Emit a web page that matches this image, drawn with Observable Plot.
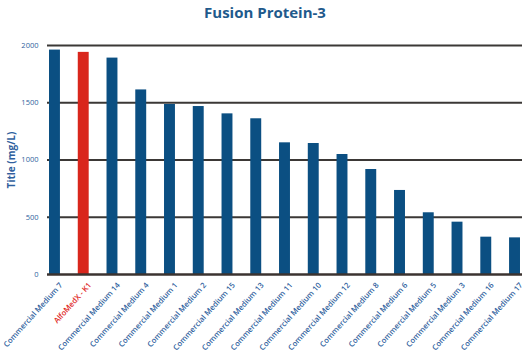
<!DOCTYPE html>
<html>
<head>
<meta charset="utf-8">
<script src="https://cdn.jsdelivr.net/npm/d3@7"></script>
<script src="https://cdn.jsdelivr.net/npm/@observablehq/plot@0.6"></script>
<style>
  html, body { margin: 0; padding: 0; background: #fff; }
  #title { height: 25px; line-height: 25px; text-align: center; font-family: "Open Sans", sans-serif; font-weight: 700; font-size: 15px; color: #1f5a8c; }
  svg { display: block; }
</style>
</head>
<body>
<div id="title">Fusion Protein-3</div>
<div id="chart"></div>
<script>
const categories = [
  "Commercial Medium 7", "AlfoMedX - K1", "Commercial Medium 14", "Commercial Medium 4",
  "Commercial Medium 1", "Commercial Medium 2", "Commercial Medium 15", "Commercial Medium 13",
  "Commercial Medium 11", "Commercial Medium 10", "Commercial Medium 12", "Commercial Medium 8",
  "Commercial Medium 6", "Commercial Medium 5", "Commercial Medium 3", "Commercial Medium 16",
  "Commercial Medium 17"
];
const titers = [1960, 1940, 1890, 1612, 1485, 1467, 1403, 1360, 1150, 1144, 1048, 917, 734, 539, 457, 326, 320];
const highlight = "AlfoMedX - K1";
const yTicks = [0, 500, 1000, 1500, 2000];

const data = categories.map((c, i) => ({category: c, value: titers[i]}));
const colorOf = c => c === highlight ? "#d9261c" : "#0b4f82";
const labelColorOf = c => c === highlight ? "#e0261c" : "#2f5f9e";

const chart = Plot.plot({
  width: 530,
  height: 332,
  marginTop: 20,
  marginBottom: 83,
  marginLeft: 47,
  marginRight: 8,
  style: {fontFamily: "'Open Sans', sans-serif", background: "#fff"},
  x: {domain: categories, paddingInner: 0.62, paddingOuter: 0.07, round: false, axis: null},
  y: {domain: [0, 2000], ticks: yTicks},
  color: {type: "identity"},
  marks: [
    Plot.ruleY(yTicks.filter(t => t > 0), {stroke: "#3b3836", strokeWidth: 2}),
    Plot.barY(data, {x: "category", y: "value", fill: d => colorOf(d.category)}),
    Plot.ruleY([0], {stroke: "#3b3330", strokeWidth: 2.5}),
    Plot.axisY({
      ticks: yTicks, tickSize: 0, tickPadding: 9, fontSize: 7.5, fill: "#2f5f9e",
      tickFormat: d => String(d),
      label: "Title (mg/L)", labelAnchor: "center", labelArrow: "none", labelOffset: 40
    }),
    Plot.text(data, {
      x: "category", frameAnchor: "bottom", text: "category",
      rotate: -48, textAnchor: "end", lineAnchor: "bottom", dy: 11, dx: 8,
      fontSize: 7.7, fontWeight: 600, fill: d => labelColorOf(d.category)
    })
  ]
});
document.getElementById("chart").appendChild(chart);
chart.querySelectorAll("g[aria-label='y-axis label'] text").forEach(t => {
  t.setAttribute("font-weight", "700");
  t.setAttribute("font-size", "10");
  t.setAttribute("fill", "#2f5f9e");
});
</script>
</body>
</html>
